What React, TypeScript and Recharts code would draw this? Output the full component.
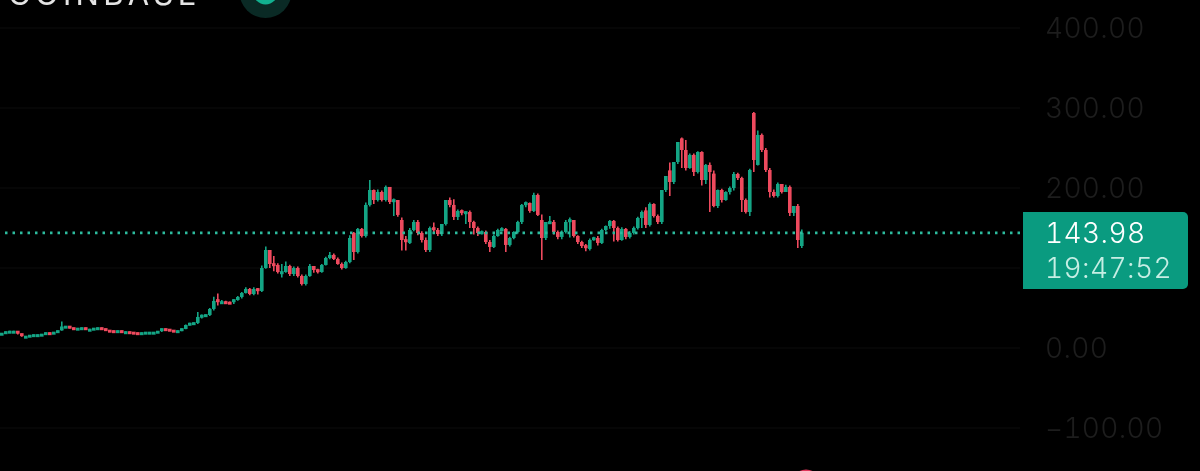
import React from "react";
import { ComposedChart, Bar, XAxis, YAxis, CartesianGrid, ReferenceLine } from "recharts";

const TITLE = "COINBASE";
const LAST_PRICE = 143.98;
const LAST_PRICE_TEXT = "143.98";
const COUNTDOWN = "19:47:52";
const GRID_PRICES = [-100, 0, 100, 200, 300, 400];
const PRICE_TICKS = [-100, 0, 200, 300, 400];
const TIME_TICKS = [10.75, 68, 125, 182.25, 238.25];

const opens = [
  16.9,18.1,20,20.6,20.6,17.5,14.4,14.4,15.6,16.3,
  16.3,16.9,18.8,18.1,19.4,22,26.9,26.9,25,24.4,
  24.4,25,23.1,23.1,24.4,25,23.8,21.9,21.3,20.6,
  21.3,20,20,19.4,18.8,16.9,18.8,19.4,19.4,19.4,
  20.6,23.8,23.1,21.9,21.3,21.3,23.8,28.8,30.6,31.3,
  38.8,40.6,41.3,48.8,60,57.5,57.5,56.9,56.3,60,
  63.8,68.8,73.8,67.5,73.8,71.3,100,122.5,105,103.8,
  95,95,102.5,92.5,100,90,80,90,102.5,97.5,
  95,103.8,112.5,116.3,111.3,105,100,107.5,143.8,120,
  148.8,140,178.8,197.5,185,195,185,201.3,182.5,185,
  160,135,131.3,147.5,157.5,143.8,135,122.5,150,147.5,
  142.5,155,185,178.8,163.8,171.3,168.8,170,157.5,150,
  143.8,145,132.5,126.3,140,147.5,148.8,128.8,137.5,145,
  157.5,178.8,181.3,171.3,191.3,160,137.5,157.5,157.5,145,
  138.8,145,157.5,160,140,132.5,127.5,123.8,135,137.5,
  131.3,147.5,152.5,158.8,150,135,148.8,138.8,143.8,150,
  162.5,172,153.8,180,165,157.5,197.5,222,207.5,232.5,
  262,247.5,225,241.3,220,245,210,228.8,218,177.5,
  197.5,185,195,200,217.5,212.5,185,170,293.75,228.8,
  266.3,247.5,222.5,195,190,205,195,201.3,168.8,177.5,
  127.5,
];
const closes = [
  18.1,20,20.6,20.6,17.5,14.4,14.4,15.6,16.3,16.3,
  16.9,18.8,18.1,19.4,21.3,26.9,26.9,25,24.4,24.4,
  25,23.1,23.1,24.4,25,23.8,21.9,21.3,20.6,21.3,
  20,20,19.4,18.8,16.9,18.8,19.4,19.4,19.4,20.6,
  23.8,23.1,21.9,21.3,21.3,23.8,28.8,30.6,31.3,38.8,
  40.6,41.3,48.8,58.8,57.5,57.5,56.9,56.3,60,63.8,
  68.8,73.8,67.5,73.8,71.3,100,122.5,105,103.8,95,
  95,102.5,92.5,100,90,80,90,102.5,97.5,95,
  103.8,112.5,116.3,111.3,105,100,107.5,137.5,120,148.8,
  140,178.8,197.5,185,195,185,201.3,182.5,185,166.3,
  135,131.3,147.5,157.5,143.8,135,122.5,150,147.5,142.5,
  155,185,178.8,163.8,171.3,168.8,170,157.5,150,143.8,
  145,132.5,126.3,140,147.5,148.8,128.8,137.5,145,157.5,
  178.8,181.3,171.3,191.3,166.3,137.5,157.5,157.5,145,138.8,
  145,157.5,160,140,132.5,127.5,123.8,135,137.5,131.3,
  147.5,152.5,158.8,150,135,148.8,138.8,143.8,150,162.5,
  170,153.8,180,165,157.5,197.5,215,207.5,232.5,257.5,
  247.5,225,241.3,220,245,210,228.8,220,177.5,197.5,
  185,195,200,217.5,212.5,185,170,222.5,235,266.3,
  247.5,222.5,195,190,205,195,201.3,168.8,177.5,135,
  143.98,
];
const highs = [
  18.5,20.5,21.5,21.5,21,18,15,16,17,17,
  17.5,19.5,19.5,20,22,33,27.5,27.5,25.5,25,
  25.5,25.5,24,25,25.5,25.5,24.5,22.5,22,22,
  22,21,20.5,20,19.5,19.5,20,20,20,21,
  24.5,24.5,23.5,22,22,24.5,29.5,31.5,32,45,
  42,42,50,64,68,60,59,58,61,65,
  70,76,75,76,75,103,127,110,115,106,
  105,108,104,102,102,92,92,105,101,99,
  105,114,120,118,113,107,109,141,145,150,
  150,182,210,198,198,197,203,190,187,172,
  163,140,150,160,160,146,138,152,157,150,
  145,157,188,186,173,173,171,172,159,152,
  147,147,135,142,149,151,150,139,146,159,
  180,183,182,194,193,167,145,165,160,147,
  147,160,163,158,141,134,130,137,139,140,
  149,153,160,160,152,151,150,146,152,164,
  172,176,182,181,167,160,200,232,218,235,
  263,260,243,243,246,246,230,232,222,198,
  199,196,202,220,219,214,187,224,295,272,
  268,250,225,198,207,198,204,203,170,180,
  148,
];
const lows = [
  16.5,17.5,19.5,19.5,17,14,13.5,14,15,15.5,
  16,16.5,17.5,18,19,21.5,26,24.5,24,23.5,
  24,23,22.5,22.5,24,23.5,21.5,21,20,20,
  19.5,19.5,19,18.5,16.5,16.5,18,19,19,19,
  20,22.5,21.5,21,20.5,21,23.5,28,30,30,
  37,39,40,47,53,55,55,55,55,59,
  62,68,66,66,67,70,99,100,96,93,
  88,94,90,90,88,78,78,89,94,93,
  94,103,111,110,104,98,99,106,110,118,
  138,138,177,180,183,183,183,180,165,164,
  122,122,130,146,141,132,120,120,145,140,
  140,153,176,160,160,166,155,150,142,140,
  142,130,120,125,139,146,120,127,136,143,
  155,176,169,170,165,110,135,155,142,136,
  136,143,138,138,130,125,121,122,134,128,
  130,146,149,133,133,134,136,137,142,148,
  150,150,152,163,155,155,195,190,205,230,
  225,222,224,215,218,203,205,170,176,175,
  182,184,192,197,210,170,168,165,220,228,
  245,220,188,188,188,193,198,165,165,125,
  125,
];

const UP = "#14a585";
const DOWN = "#ee4a5e";
const FONT = "Inter, 'Noto Sans', sans-serif";

const rows = closes.map((close, i) => ({
  slot: i + 0.5,
  open: opens[i],
  close,
  high: highs[i],
  low: lows[i],
  span: [lows[i], highs[i]],
}));

function Candle(props: any) {
  const { x, y, width, height, payload } = props;
  const { open, close, high, low } = payload;
  const perUnit = height / Math.max(high - low, 0.001);
  const bodyHeight = Math.max(Math.abs(open - close) * perUnit, 3);
  const top = y + (high - Math.max(open, close)) * perUnit - (Math.abs(open - close) * perUnit < 3 ? 0.8 : 0);
  const color = close >= open ? UP : DOWN;
  const mid = x + width / 2;
  return (
    <g>
      <line x1={mid} x2={mid} y1={y} y2={y + height} stroke={color} strokeWidth={1.6} />
      <rect x={x} y={top} width={width} height={bodyHeight} fill={color} />
    </g>
  );
}

export default function App() {
  return (
    <div style={{ position: "fixed", left: 0, top: 0, width: 1200, height: 471, background: "#000", overflow: "hidden", filter: "blur(0.4px)" }}>
      <ComposedChart
        width={1200}
        height={471}
        data={rows}
        margin={{ top: 0, right: 0, bottom: 0, left: 0 }}
      >
        <CartesianGrid
          stroke="#0c0c0c"
          strokeWidth={1}
          verticalValues={TIME_TICKS}
          horizontalValues={GRID_PRICES}
          syncWithTicks={false}
        />
        <XAxis
          dataKey="slot"
          type="number"
          domain={[0, 255]}
          ticks={TIME_TICKS}
          height={0}
          tick={false}
          axisLine={false}
          tickLine={false}
          allowDecimals
        />
        <YAxis
          orientation="right"
          width={180}
          domain={[-153.75, 435]}
          allowDataOverflow
          ticks={PRICE_TICKS}
          interval={0}
          axisLine={false}
          tickLine={false}
          tickSize={0}
          tickMargin={25}
          tickFormatter={(v: number) => (v < 0 ? "\u2212" : "") + Math.abs(v).toFixed(2)}
          tick={{ fill: "#1d1d1d", fontSize: 28, fontFamily: FONT, fontWeight: 300, letterSpacing: 0.3, style: { fontVariantNumeric: "tabular-nums" } }}
        />
        <ReferenceLine y={LAST_PRICE} stroke="#2dbb9e" strokeWidth={2.8} strokeDasharray="2.5 5" />
        <Bar dataKey="span" barSize={4} shape={Candle} isAnimationActive={false} />
      </ComposedChart>

      <svg width={1200} height={471} style={{ position: "absolute", left: 0, top: 0, pointerEvents: "none" }}>
        <circle cx={265.5} cy={-8} r={26} fill="#0a2a25" />
        <circle cx={265.5} cy={-8} r={12.5} fill="#12b08f" />
        <circle cx={806} cy={484} r={14.5} fill="#e0365a" />
      </svg>

      <div style={{ position: "absolute", left: 8, top: -26, fontFamily: FONT, fontSize: 31, lineHeight: "40px", letterSpacing: 4.3, color: "#e4e4e4" }}>
        {TITLE}
      </div>

      <div style={{ position: "absolute", left: 1023, top: 212, width: 165, height: 77, background: "#0a9b80", borderRadius: "0 5px 5px 0" }}>
        <div style={{ position: "absolute", left: 22, top: 6, fontFamily: FONT, fontSize: 28, lineHeight: "30px", letterSpacing: 0.4, fontWeight: 300, fontVariantNumeric: "tabular-nums", color: "#ffffff" }}>
          {LAST_PRICE_TEXT}
        </div>
        <div style={{ position: "absolute", left: 22, top: 41, fontFamily: FONT, fontSize: 28, lineHeight: "30px", letterSpacing: 0.4, fontWeight: 300, fontVariantNumeric: "tabular-nums", color: "#c6eee4" }}>
          {COUNTDOWN}
        </div>
      </div>
    </div>
  );
}
